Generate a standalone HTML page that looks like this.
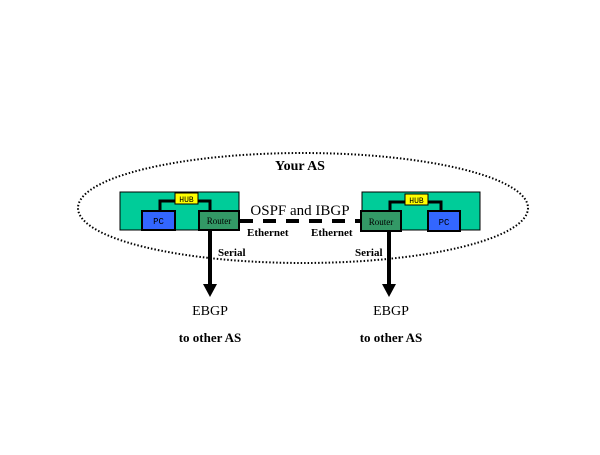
<!DOCTYPE html>
<html><head><style>body{margin:0;background:#fff}</style></head><body>
<svg width="600" height="450" xmlns="http://www.w3.org/2000/svg" font-family="Liberation Serif, serif">
<rect width="600" height="450" fill="#fff"/>
<ellipse cx="303" cy="208" rx="225" ry="55" fill="none" stroke="#000" stroke-width="2" stroke-dasharray="1.5,2"/>
<text x="300" y="170" font-size="14" font-weight="bold" text-anchor="middle">Your AS</text>
<!-- left box -->
<rect x="120" y="192" width="119" height="38" fill="#00cc99" stroke="#000" stroke-width="1"/>
<polyline points="160,210 160,201 210,201 210,210" fill="none" stroke="#000" stroke-width="3"/>
<rect x="175" y="193" width="23" height="11" fill="#ffff00" stroke="#000" stroke-width="1"/>
<text x="186.5" y="202" font-size="8" text-anchor="middle" font-family="Liberation Mono, monospace">HUB</text>
<rect x="142" y="211" width="33" height="19" fill="#3366ff" stroke="#000" stroke-width="2"/>
<text x="158.5" y="224" font-size="9" text-anchor="middle" font-family="Liberation Mono, monospace">PC</text>
<rect x="199" y="211" width="40" height="19" fill="#339966" stroke="#000" stroke-width="2"/>
<text x="219" y="224" font-size="9" text-anchor="middle">Router</text>
<!-- right box -->
<rect x="362" y="192" width="118" height="38" fill="#00cc99" stroke="#000" stroke-width="1"/>
<polyline points="390,211 390,202 441,202 441,211" fill="none" stroke="#000" stroke-width="3"/>
<rect x="405" y="194" width="23" height="11" fill="#ffff00" stroke="#000" stroke-width="1"/>
<text x="416.5" y="203" font-size="8" text-anchor="middle" font-family="Liberation Mono, monospace">HUB</text>
<rect x="361" y="211" width="40" height="20" fill="#339966" stroke="#000" stroke-width="2"/>
<text x="381" y="225" font-size="9" text-anchor="middle">Router</text>
<rect x="428" y="211" width="32" height="20" fill="#3366ff" stroke="#000" stroke-width="2"/>
<text x="444" y="225" font-size="9" text-anchor="middle" font-family="Liberation Mono, monospace">PC</text>
<!-- dashed link -->
<line x1="240" y1="221" x2="361" y2="221" stroke="#000" stroke-width="4" stroke-dasharray="13,10"/>
<text x="300" y="215" font-size="15" text-anchor="middle">OSPF and IBGP</text>
<text x="247" y="236" font-size="11" font-weight="bold">Ethernet</text>
<text x="311" y="236" font-size="11" font-weight="bold">Ethernet</text>
<!-- serial arrows -->
<line x1="210" y1="230" x2="210" y2="285" stroke="#000" stroke-width="4"/>
<polygon points="203,284 217,284 210,297" fill="#000"/>
<line x1="389" y1="231" x2="389" y2="285" stroke="#000" stroke-width="4"/>
<polygon points="382,284 396,284 389,297" fill="#000"/>
<text x="218" y="256" font-size="11" font-weight="bold">Serial</text>
<text x="355" y="256" font-size="11" font-weight="bold">Serial</text>
<text x="210" y="315" font-size="14" text-anchor="middle">EBGP</text>
<text x="210" y="342" font-size="13" font-weight="bold" text-anchor="middle">to other AS</text>
<text x="391" y="315" font-size="14" text-anchor="middle">EBGP</text>
<text x="391" y="342" font-size="13" font-weight="bold" text-anchor="middle">to other AS</text>
</svg>
</body></html>
